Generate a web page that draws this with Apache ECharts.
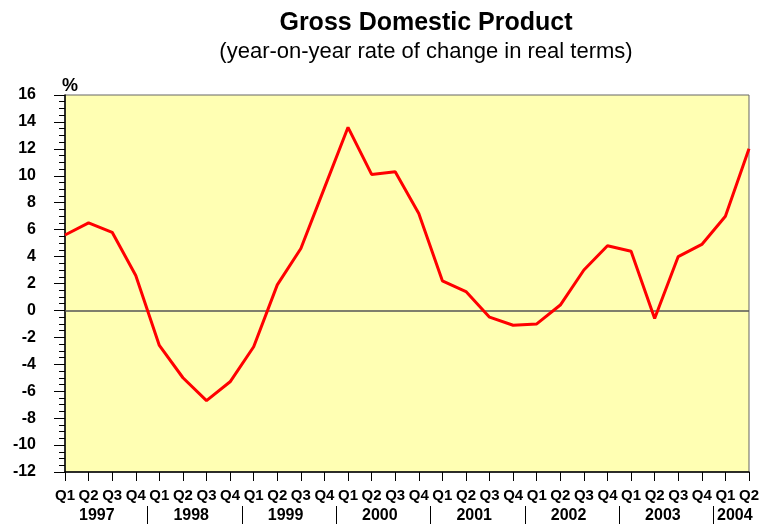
<!DOCTYPE html>
<html>
<head>
<meta charset="utf-8">
<script src="https://cdn.jsdelivr.net/npm/echarts@6/dist/echarts.min.js"></script>
<style>
  html, body { margin: 0; padding: 0; background: #fff; }
</style>
</head>
<body>
<div id="chart" style="width: 762px; height: 524px;"></div>
<script>
  // quarters from 1997 Q1 to 2004 Q2
  const quarters = [
    'Q1', 'Q2', 'Q3', 'Q4', 'Q1', 'Q2', 'Q3', 'Q4',
    'Q1', 'Q2', 'Q3', 'Q4', 'Q1', 'Q2', 'Q3', 'Q4',
    'Q1', 'Q2', 'Q3', 'Q4', 'Q1', 'Q2', 'Q3', 'Q4',
    'Q1', 'Q2', 'Q3', 'Q4', 'Q1', 'Q2'
  ]
  const years = ['1997', '1998', '1999', '2000', '2001', '2002', '2003', '2004']
  const quartersPerYear = [4, 4, 4, 4, 4, 4, 4, 2]

  // year-on-year rate of change, %
  const gdp = [
    5.6, 6.5, 5.8, 2.6,
    -2.6, -5.0, -6.7, -5.3,
    -2.7, 1.9, 4.6, 9.1,
    13.6, 10.1, 10.3, 7.2,
    2.2, 1.4, -0.5, -1.1,
    -1.0, 0.4, 3.0, 4.8,
    4.4, -0.6, 4.0, 4.9,
    7.0, 12.0
  ]

  const yTicks = { min: -12, max: 16, interval: 2 }

  // year label positions and separators between years (in category units)
  let yearLabelPos = []
  let yearSeparators = []
  let yearByPos = {}
  let start = 0
  years.forEach(function (y, i) {
    const n = quartersPerYear[i]
    const pos = start + (n === 4 ? 1.35 : 0.4)
    yearLabelPos.push(pos)
    yearByPos[pos.toFixed(2)] = y
    if (i > 0) yearSeparators.push(start - 0.5)
    start += n
  })

  const font = 'Liberation Sans, Arial, Helvetica, sans-serif'
  const myChart = echarts.init(document.getElementById('chart'))

  const option = {
    animation: false,
    backgroundColor: '#ffffff',
    title: [
      {
        text: 'Gross Domestic Product',
        left: 421,
        top: 6,
        textAlign: 'center',
        textStyle: { fontFamily: font, fontWeight: 'bold', fontSize: 25, color: '#000' }
      },
      {
        text: '(year-on-year rate of change in real terms)',
        left: 421,
        top: 36,
        textAlign: 'center',
        textStyle: { fontFamily: font, fontWeight: 'normal', fontSize: 22, color: '#000' }
      },
      {
        text: '%',
        left: 57,
        top: 72,
        textStyle: { fontFamily: font, fontWeight: 'bold', fontSize: 18, color: '#000' }
      }
    ],
    grid: {
      left: 65,
      top: 95,
      right: 10,
      bottom: 52,
      show: true,
      backgroundColor: '#FFFFB3',
      borderColor: '#666',
      borderWidth: 1
    },
    xAxis: [
      {
        type: 'category',
        data: quarters,
        boundaryGap: false,
        axisLine: { onZero: false, lineStyle: { color: '#000', width: 1.5 } },
        axisTick: { show: true, inside: false, length: 9, interval: 0, lineStyle: { color: '#000', width: 1 } },
        axisLabel: {
          interval: 0,
          margin: 16,
          fontFamily: font,
          fontWeight: 'bold',
          fontSize: 15,
          color: '#000'
        },
        splitLine: { show: false }
      },
      {
        type: 'value',
        position: 'bottom',
        offset: 34,
        min: 0,
        max: quarters.length - 1,
        axisLine: { show: false, onZero: false },
        axisTick: {
          show: true,
          inside: false,
          length: 18,
          customValues: yearSeparators,
          lineStyle: { color: '#000', width: 1 }
        },
        axisLabel: {
          customValues: yearLabelPos,
          margin: 2,
          fontFamily: font,
          fontWeight: 'bold',
          fontSize: 16,
          color: '#000',
          formatter: function (v) { return yearByPos[v.toFixed(2)] || '' }
        },
        splitLine: { show: false }
      }
    ],
    yAxis: {
      type: 'value',
      min: yTicks.min,
      max: yTicks.max,
      interval: yTicks.interval,
      axisLine: { show: true, lineStyle: { color: '#000', width: 1.5 } },
      axisTick: { show: true, inside: false, length: 11, lineStyle: { color: '#000', width: 1 } },
      minorTick: { show: true, splitNumber: 4, length: 6, lineStyle: { color: '#000', width: 1 } },
      axisLabel: {
        margin: 29,
        fontFamily: font,
        fontWeight: 'bold',
        fontSize: 16,
        color: '#000'
      },
      splitLine: { show: false }
    },
    series: [
      {
        type: 'line',
        data: gdp,
        showSymbol: false,
        symbol: 'none',
        lineStyle: { color: '#FF0000', width: 3 },
        z: 3,
        markLine: {
          silent: true,
          symbol: 'none',
          label: { show: false },
          lineStyle: { color: '#555', width: 1.5, type: 'solid' },
          data: [{ yAxis: 0 }],
          z: 2
        }
      }
    ]
  }

  myChart.setOption(option)
</script>
</body>
</html>
